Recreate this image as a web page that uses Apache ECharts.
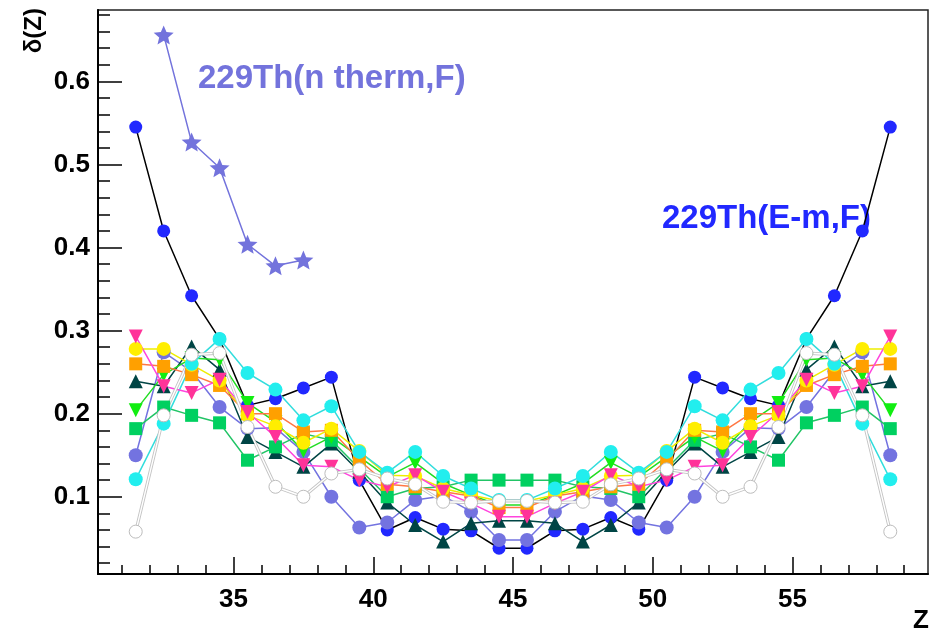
<!DOCTYPE html>
<html>
<head>
<meta charset="utf-8">
<script src="https://cdn.jsdelivr.net/npm/echarts@6/dist/echarts.min.js"></script>
<style>html,body{margin:0;padding:0;background:#fff}#c{width:932px;height:632px}</style>
</head>
<body>
<div id="c"></div>
<script>
const Z = [31.5,32.5,33.5,34.5,35.5,36.5,37.5,38.5,39.5,40.5,41.5,42.5,43.5,44.5,45.5,46.5,47.5,48.5,49.5,50.5,51.5,52.5,53.5,54.5,55.5,56.5,57.5,58.5];
const starZ = [32.5,33.5,34.5,35.5,36.5,37.5];
const starVals = [0.656,0.527,0.496,0.404,0.378,0.385];
const emfVals = [0.545,0.42,0.342,0.29,0.21,0.218,0.231,0.244,0.12,0.06,0.075,0.061,0.059,0.038,0.038,0.059,0.061,0.075,0.061,0.12,0.244,0.231,0.218,0.21,0.29,0.342,0.42,0.545];
const slateVals = [0.15,0.274,0.251,0.208,0.182,0.183,0.154,0.1,0.063,0.069,0.096,0.101,0.082,0.048,0.048,0.082,0.101,0.096,0.069,0.063,0.1,0.154,0.183,0.182,0.208,0.251,0.274,0.15];
const tealVals = [0.239,0.233,0.281,0.253,0.172,0.154,0.136,0.164,0.13,0.093,0.066,0.046,0.068,0.071,0.071,0.068,0.046,0.066,0.093,0.13,0.164,0.136,0.154,0.172,0.253,0.281,0.233,0.239];
const greenSqVals = [0.182,0.208,0.198,0.189,0.144,0.16,0.176,0.168,0.134,0.1,0.11,0.112,0.12,0.12,0.12,0.12,0.112,0.11,0.1,0.134,0.168,0.176,0.16,0.144,0.189,0.198,0.208,0.182];
const greenTriVals = [0.204,0.247,0.267,0.265,0.213,0.19,0.155,0.172,0.148,0.124,0.141,0.116,0.102,0.09,0.09,0.102,0.116,0.141,0.124,0.148,0.172,0.155,0.19,0.213,0.265,0.267,0.247,0.204];
const orangeVals = [0.26,0.257,0.247,0.234,0.2,0.2,0.178,0.18,0.144,0.115,0.112,0.106,0.101,0.087,0.087,0.101,0.106,0.112,0.115,0.144,0.18,0.178,0.2,0.2,0.234,0.247,0.257,0.26];
const yellowVals = [0.278,0.278,0.259,0.24,0.198,0.185,0.165,0.182,0.155,0.126,0.125,0.11,0.102,0.095,0.095,0.102,0.11,0.125,0.126,0.155,0.182,0.165,0.185,0.198,0.24,0.259,0.278,0.278];
const cyanVals = [0.121,0.188,0.26,0.29,0.249,0.229,0.192,0.209,0.154,0.129,0.154,0.125,0.11,0.096,0.096,0.11,0.125,0.154,0.129,0.154,0.209,0.192,0.229,0.249,0.29,0.26,0.188,0.121];
const pinkVals = [0.293,0.233,0.225,0.241,0.202,0.172,0.138,0.136,0.12,0.112,0.126,0.106,0.092,0.076,0.076,0.092,0.106,0.126,0.112,0.12,0.136,0.138,0.172,0.202,0.241,0.225,0.233,0.293];
const whiteVals = [0.058,0.198,0.271,0.273,0.184,0.112,0.1,0.128,0.133,0.122,0.115,0.094,0.093,0.095,0.095,0.093,0.094,0.115,0.122,0.133,0.128,0.1,0.112,0.184,0.273,0.271,0.198,0.058];

const xMajorTicks = [35,40,45,50,55];
const xMinorTicks = [31,32,33,34,35,36,37,38,39,40,41,42,43,44,45,46,47,48,49,50,51,52,53,54,55,56,57,58,59];
const yMajorTicks = [0.1,0.2,0.3,0.4,0.5,0.6];
const yMinorTicks = [0.02,0.04,0.06,0.08,0.1,0.12,0.14,0.16,0.18,0.2,0.22,0.24,0.26,0.28,0.3,0.32,0.34,0.36,0.38,0.4,0.42,0.44,0.46,0.48,0.5,0.52,0.54,0.56,0.58,0.6,0.62,0.64,0.66,0.68];

const pairs = (xs, ys) => xs.map((x, i) => [x, ys[i]]);
const starPath = 'path://M0,-1 L0.265,-0.364 L0.951,-0.309 L0.428,0.139 L0.588,0.809 L0,0.45 L-0.588,0.809 L-0.428,0.139 L-0.951,-0.309 L-0.265,-0.364 Z';
const FONT = 'Liberation Sans';

function ser(name, vals, symbol, size, color, lineColor, extra) {
  return Object.assign({
    name, type: 'line', data: pairs(Z, vals), symbol, symbolSize: size,
    showAllSymbol: true,
    itemStyle: { color: color, borderWidth: 0 },
    lineStyle: { color: lineColor, width: 1.5 },
    emphasis: { disabled: true }
  }, extra || {});
}

const xBase = { type: 'value', min: 30.15, max: 59.85, splitLine: { show: false }, position: 'bottom' };
const yBase = { type: 'value', min: 0.007, max: 0.686, splitLine: { show: false }, position: 'left' };

const chart = echarts.init(document.getElementById('c'), null, { renderer: 'canvas' });
chart.setOption({
  animation: false,
  backgroundColor: '#fff',
  grid: { left: 98, right: 4, top: 10, bottom: 58, show: true, borderColor: '#222', borderWidth: 1.5, outerBoundsMode: 'none' },
  xAxis: [
    Object.assign({}, xBase, {
      axisLine: { show: true, onZero: false, lineStyle: { color: '#000', width: 2 } },
      axisTick: { show: true, inside: true, length: 17, customValues: xMajorTicks, lineStyle: { color: '#000', width: 1.5 } },
      axisLabel: { show: true, customValues: xMajorTicks, margin: 13, color: '#000', fontFamily: FONT, fontWeight: 'bold', fontSize: 26 }
    }),
    Object.assign({}, xBase, {
      axisLine: { show: false, onZero: false },
      axisTick: { show: true, inside: true, length: 9, customValues: xMinorTicks, lineStyle: { color: '#000', width: 1.5 } },
      axisLabel: { show: false }
    })
  ],
  yAxis: [
    Object.assign({}, yBase, {
      axisLine: { show: true, onZero: false, lineStyle: { color: '#000', width: 2 } },
      axisTick: { show: true, inside: true, length: 24, customValues: yMajorTicks, lineStyle: { color: '#000', width: 1.5 } },
      axisLabel: { show: true, customValues: yMajorTicks, margin: 8, color: '#000', fontFamily: FONT, fontWeight: 'bold', fontSize: 26 }
    }),
    Object.assign({}, yBase, {
      axisLine: { show: false, onZero: false },
      axisTick: { show: true, inside: true, length: 12, customValues: yMinorTicks, lineStyle: { color: '#000', width: 1.5 } },
      axisLabel: { show: false }
    })
  ],
  series: [
    ser('229Th(E-m,F)', emfVals, 'circle', 13, '#2128ff', '#000000'),
    { name: 'nthermF', type: 'line', data: pairs(starZ, starVals), symbol: starPath, symbolKeepAspect: true, symbolSize: 20,
      itemStyle: { color: '#7373dc' }, lineStyle: { color: '#7373dc', width: 1.5 }, emphasis: { disabled: true } },
    ser('slate', slateVals, 'circle', 14, '#7373e0', '#7373e0'),
    ser('teal', tealVals, 'triangle', 14, '#004545', '#004545'),
    ser('greenSq', greenSqVals, 'rect', 13, '#00d060', '#22c466'),
    ser('greenTri', greenTriVals, 'triangle', 14, '#11ee11', '#22dd22', { symbolRotate: 180 }),
    ser('orange', orangeVals, 'rect', 13, '#ffa000', '#ff7744'),
    ser('yellow', yellowVals, 'circle', 14, '#ffee00', '#eeee00'),
    ser('cyan', cyanVals, 'circle', 14, '#22eeee', '#33dddd'),
    ser('pink', pinkVals, 'triangle', 14, '#ff3399', '#ff44dd', { symbolRotate: 180 }),
    { name: 'whiteLineBg', type: 'line', data: pairs(Z, whiteVals), symbol: 'none', lineStyle: { color: '#c4c4c4', width: 3.2 }, emphasis: { disabled: true } },
    ser('white', whiteVals, 'circle', 13, '#ffffff', '#ffffff', { itemStyle: { color: '#ffffff', borderColor: '#bdbdbd', borderWidth: 1 }, lineStyle: { color: '#ffffff', width: 1.4 } })
  ],
  graphic: [
    { type: 'text', left: 198, top: 62, style: { text: '229Th(n therm,F)', fill: '#7373dc', font: 'bold 33px "Liberation Sans"' } },
    { type: 'text', left: 662, top: 202, style: { text: '229Th(E-m,F)', fill: '#2128ff', font: 'bold 33px "Liberation Sans"' } },
    { type: 'text', x: 34, y: 8, rotation: Math.PI / 2, style: { text: 'δ(Z)', fill: '#000', align: 'right', verticalAlign: 'middle', font: 'bold 24px "Liberation Sans"' } },
    { type: 'text', x: 921, y: 621, style: { text: 'Z', fill: '#000', align: 'center', verticalAlign: 'middle', font: 'bold 26px "Liberation Sans"' } }
  ]
});
</script>
</body>
</html>
